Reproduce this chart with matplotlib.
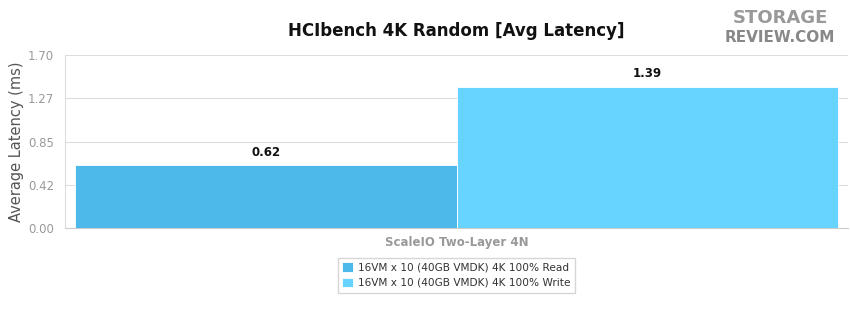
import matplotlib.pyplot as plt
import numpy as np

# data
category = ['ScaleIO Two-Layer 4N']
series_names = ['16VM x 10 (40GB VMDK) 4K 100% Read',
                '16VM x 10 (40GB VMDK) 4K 100% Write']
series_values = [[0.62], [1.39]]
colors = ['#4DB8EA', '#66D4FF']
yticks = [0.0, 0.425, 0.85, 1.275, 1.70]
ytick_labels = ['0.00', '0.42', '0.85', '1.27', '1.70']

fig = plt.figure(figsize=(8.5, 3.26), dpi=100)
ax = fig.add_axes([0.0765, 0.3006, 0.9212, 0.5307])

w = 0.4875
x = np.arange(len(category))
offsets = [-w / 2, w / 2]
handles = []
for name, vals, c, off in zip(series_names, series_values, colors, offsets):
    b = ax.bar(x + off, vals, width=w, color=c, edgecolor='white', linewidth=0.6, label=name, zorder=3)
    handles.append(b)
    for xi, v in zip(x + off, vals):
        ax.text(xi, v + 0.06, f'{v:.2f}', ha='center', va='bottom', fontsize=8.5,
                fontweight='bold', color='#111111')

ax.set_xlim(-0.5, 0.5)
ax.set_ylim(0, 1.70)
ax.set_yticks(yticks)
ax.set_yticklabels(ytick_labels)
ax.set_xticks(x)
ax.set_xticklabels(category, fontsize=8.5, fontweight='bold', color='#999999')
ax.tick_params(axis='y', labelsize=8.5, colors='#999999', length=0, pad=8)
ax.tick_params(axis='x', length=0, pad=6)
ax.grid(axis='y', color='#dddddd', linewidth=0.8, zorder=0)
for s in ['top', 'right']:
    ax.spines[s].set_visible(False)
ax.spines['left'].set_color('#dddddd')
ax.spines['bottom'].set_color('#cccccc')
ax.set_ylabel('Average Latency (ms)', fontsize=10.5, color='#555555')
ax.yaxis.set_label_coords(-0.052, 0.5)

fig.text(0.5365, 0.905, 'HCIbench 4K Random [Avg Latency]', ha='center', va='center',
         fontsize=12, fontweight='bold', color='#111111')
fig.text(0.918, 0.945, 'STORAGE', ha='center', va='center', fontsize=13,
         fontweight='bold', color='#999999')
fig.text(0.918, 0.885, 'REVIEW.COM', ha='center', va='center', fontsize=11,
         fontweight='bold', color='#888888')

fig.legend(handles=handles, loc='center', bbox_to_anchor=(0.537, 0.156), ncol=1,
           fontsize=7.6, frameon=True, edgecolor='#cccccc', fancybox=False,
           handlelength=1.0, handleheight=1.0, handletextpad=0.5, labelspacing=0.45,
           borderpad=0.45, labelcolor='#333333')

fig.savefig('out.png', dpi=100)
